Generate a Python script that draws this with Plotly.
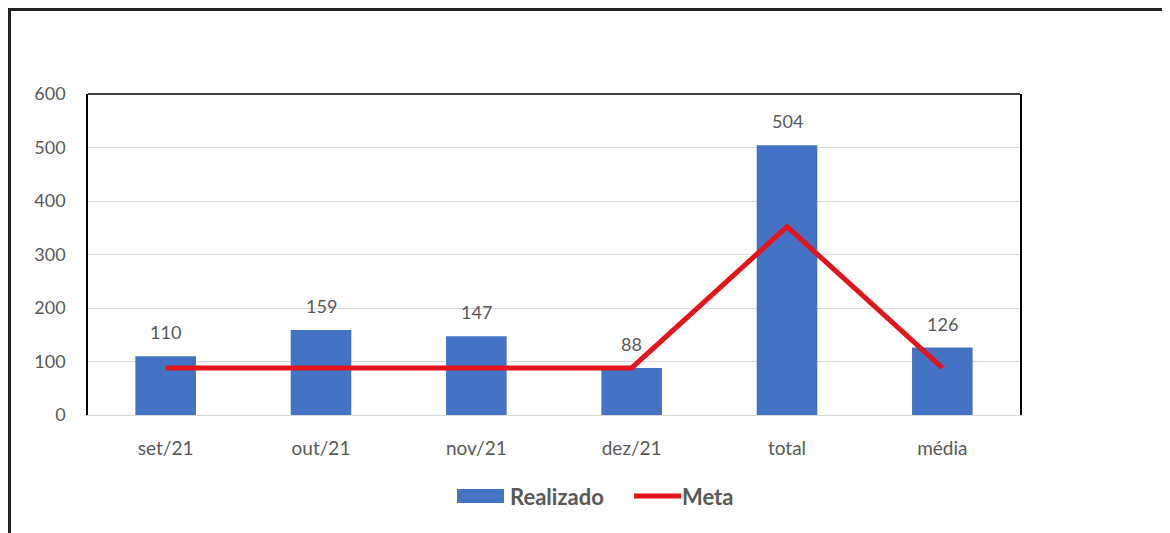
import plotly.graph_objects as go

categories = ["set/21", "out/21", "nov/21", "dez/21", "total", "média"]
realizado = [110, 159, 147, 88, 504, 126]
meta = [88, 88, 88, 88, 352, 88]
y_ticks = [0, 100, 200, 300, 400, 500, 600]

# page has an 8px body margin; figure pixel = screen pixel - 8
OFF = 8
W, H = 1162, 525
ml, mt = 80, 86
pw, ph = 932, 321
mr = W - ml - pw
mb = H - mt - ph

font_fam = "Lato, 'Open Sans', sans-serif"
gray = "#595959"


def px(sx):
    return (sx - OFF - ml) / pw


def py(sy):
    return (mt + ph - (sy - OFF)) / ph


fig = go.Figure()
fig.add_trace(go.Bar(
    x=categories, y=realizado, name="Realizado",
    marker=dict(color="#4472C4", line=dict(width=0)),
    showlegend=False,
))
fig.add_trace(go.Scatter(
    x=categories, y=meta, name="Meta", mode="lines",
    line=dict(color="#E3141B", width=5),
    showlegend=False,
))

# data labels above bars
for c, v in zip(categories, realizado):
    fig.add_annotation(x=c, y=v, text=str(v), showarrow=False, yanchor="middle",
                       yshift=24, font=dict(size=18, color=gray, family=font_fam))

# outer frame (left and top edges visible)
fig.add_shape(type="line", xref="paper", yref="paper", x0=px(9.5), x1=px(9.5), y0=py(540), y1=py(8),
              line=dict(color="#222222", width=3))
fig.add_shape(type="line", xref="paper", yref="paper", x0=px(8), x1=px(1180), y0=py(9.5), y1=py(9.5),
              line=dict(color="#222222", width=3))
# top border of plot area
fig.add_shape(type="line", xref="paper", yref="paper", x0=0, x1=1, y0=1, y1=1,
              line=dict(color="#000000", width=1.5))

# custom legend
fig.add_shape(type="rect", xref="paper", yref="paper", x0=px(457), x1=px(504), y0=py(503), y1=py(489),
              fillcolor="#4472C4", line=dict(width=0))
fig.add_annotation(xref="paper", yref="paper", x=px(508), y=py(496.5), xanchor="left", yanchor="middle",
                   text="<b>Realizado</b>", showarrow=False,
                   font=dict(size=22, color=gray, family=font_fam))
fig.add_shape(type="line", xref="paper", yref="paper", x0=px(634), x1=px(681), y0=py(496), y1=py(496),
              line=dict(color="#E3141B", width=5))
fig.add_annotation(xref="paper", yref="paper", x=px(680), y=py(496.5), xanchor="left", yanchor="middle",
                   text="<b>Meta</b>", showarrow=False,
                   font=dict(size=22, color=gray, family=font_fam))

fig.update_layout(
    width=W, height=H,
    margin=dict(l=ml, r=mr, t=mt, b=mb, pad=0),
    paper_bgcolor="white", plot_bgcolor="white",
    font=dict(family=font_fam, color=gray, size=18),
    bargap=0.61,
    showlegend=False,
    xaxis=dict(showline=True, linecolor="#d9d9d9", linewidth=1, ticks="",
               tickfont=dict(size=19, color=gray), ticklabelstandoff=16,
               showgrid=False),
    yaxis=dict(range=[0, 600], tickvals=y_ticks, showgrid=True, gridcolor="#d9d9d9",
               gridwidth=1, zeroline=False, showline=True, mirror=True,
               linecolor="#000000", linewidth=1.5, ticks="",
               tickfont=dict(size=18, color=gray), ticklabelstandoff=17),
)

fig.write_html("out.html")
